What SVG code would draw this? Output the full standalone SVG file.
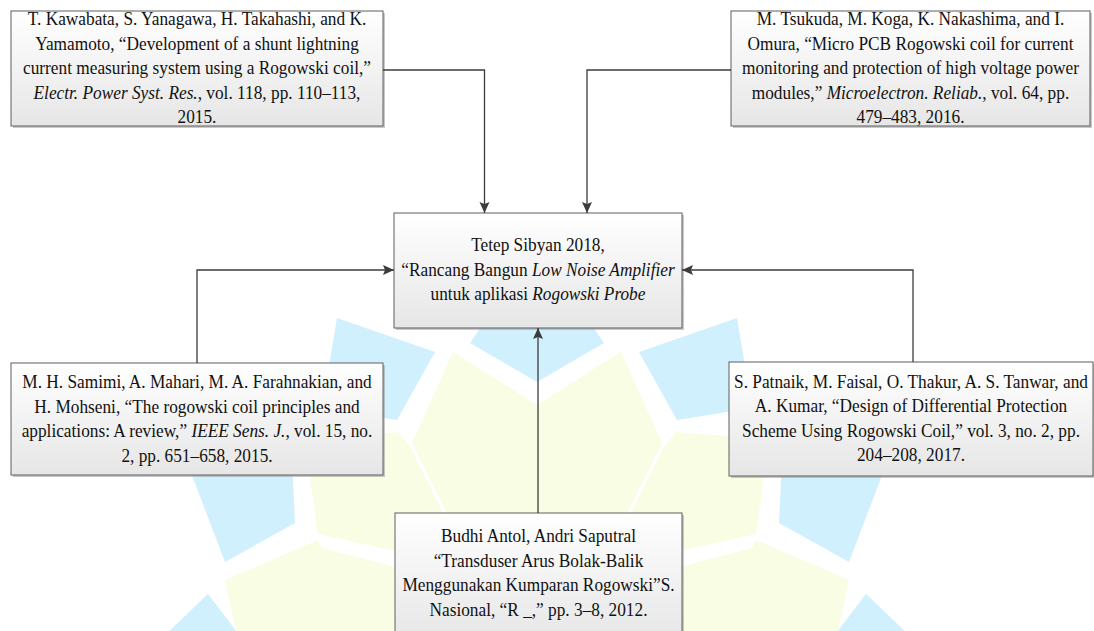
<svg xmlns="http://www.w3.org/2000/svg" width="1094" height="631" viewBox="0 0 1094 631">
<defs>
<linearGradient id="boxgrad" x1="0" y1="0" x2="0" y2="1">
<stop offset="0" stop-color="#ffffff"/>
<stop offset="1" stop-color="#e6e6e6"/>
</linearGradient>
<marker id="arrow" markerUnits="userSpaceOnUse" markerWidth="12" markerHeight="11" refX="11" refY="5" orient="auto">
<path d="M0,0 L11,5 L0,10 L2,5 z" fill="#3c3c3c"/>
</marker>
<g id="wmhalf">
<polygon class="wb" points="337,318 435,352 397,420 322,408"/>
<polygon class="wb" points="178,440 291,440 295,523 225,562 193,478"/>
<polygon class="wb" points="160,640 208,594 243,640"/>
<polygon class="wy" points="300,440 398,432 410,447 444,515 440,553 395,551 318,534 310,478"/>
<polygon class="wy" points="225,580 318,540 322,548 395,567 410,640 238,640"/>
</g>
</defs>
<style>
.wb{fill:#cff0fc;}
.wy{fill:#f9fde3;}
.box{fill:url(#boxgrad);stroke:#5e5e5e;stroke-width:1;}
.shadow{fill:#9c9c9c;opacity:0.55;}
.t{font-family:"Liberation Serif","Times New Roman",serif;font-size:19px;fill:#111111;text-anchor:middle;}
.i{font-style:italic;}
.conn{fill:none;stroke:#3c3c3c;stroke-width:1.3;}
</style>
<rect x="0" y="0" width="1094" height="631" fill="#ffffff"/>
<g id="watermark">
<use href="#wmhalf"/>
<use href="#wmhalf" transform="matrix(-1,0,0,1,1074,0)"/>
<polygon class="wb" points="487,318 470,343 537,382 604,343 587,318"/>
<polygon class="wy" points="453,352 537,405 621,352 662,443 627,513 600,600 474,600 447,513 412,443"/>
</g>
<g id="node-kawabata">
<rect class="shadow" x="13" y="13" width="372" height="115"/>
<rect class="box" x="11" y="11" width="372" height="115"/>
<g transform="matrix(0.91,0,0,1,17.73,0)">
<text class="t" x="197" y="25.5">T. Kawabata, S. Yanagawa, H. Takahashi, and K.</text>
<text class="t" x="197" y="50">Yamamoto, “Development of a shunt lightning</text>
<text class="t" x="197" y="74.5">current measuring system using a Rogowski coil,”</text>
<text class="t" x="197" y="99"><tspan class="i">Electr. Power Syst. Res.</tspan>, vol. 118, pp. 110–113,</text>
<text class="t" x="197" y="123">2015.</text>
</g>
</g>
<g id="node-tsukuda">
<rect class="shadow" x="733" y="13" width="359" height="115"/>
<rect class="box" x="731" y="11" width="359" height="115"/>
<g transform="matrix(0.91,0,0,1,81.945,0)">
<text class="t" x="910.5" y="25.5">M. Tsukuda, M. Koga, K. Nakashima, and I.</text>
<text class="t" x="910.5" y="50">Omura, “Micro PCB Rogowski coil for current</text>
<text class="t" x="910.5" y="74.5">monitoring and protection of high voltage power</text>
<text class="t" x="910.5" y="99">modules,” <tspan class="i">Microelectron. Reliab.</tspan>, vol. 64, pp.</text>
<text class="t" x="910.5" y="123">479–483, 2016.</text>
</g>
</g>
<g id="node-sibyan">
<rect class="shadow" x="396" y="215" width="288" height="115"/>
<rect class="box" x="394" y="213" width="288" height="115"/>
<g transform="matrix(0.91,0,0,1,48.42,0)">
<text class="t" x="538" y="251.5">Tetep Sibyan 2018,</text>
<text class="t" x="538" y="276">“Rancang Bangun <tspan class="i">Low Noise Amplifier</tspan></text>
<text class="t" x="538" y="300.5">untuk aplikasi <tspan class="i">Rogowski Probe</tspan></text>
</g>
</g>
<g id="node-samimi">
<rect class="shadow" x="13" y="365" width="372" height="112"/>
<rect class="box" x="11" y="363" width="372" height="112"/>
<g transform="matrix(0.91,0,0,1,17.73,0)">
<text class="t" x="197" y="388.5">M. H. Samimi, A. Mahari, M. A. Farahnakian, and</text>
<text class="t" x="197" y="413">H. Mohseni, “The rogowski coil principles and</text>
<text class="t" x="197" y="437.5">applications: A review,” <tspan class="i">IEEE Sens. J.</tspan>, vol. 15, no.</text>
<text class="t" x="197" y="462">2, pp. 651–658, 2015.</text>
</g>
</g>
<g id="node-patnaik">
<rect class="shadow" x="731" y="364" width="364" height="114"/>
<rect class="box" x="729" y="362" width="364" height="114"/>
<g transform="matrix(0.91,0,0,1,81.99,0)">
<text class="t" x="911" y="388">S. Patnaik, M. Faisal, O. Thakur, A. S. Tanwar, and</text>
<text class="t" x="911" y="412.5">A. Kumar, “Design of Differential Protection</text>
<text class="t" x="911" y="437">Scheme Using Rogowski Coil,” vol. 3, no. 2, pp.</text>
<text class="t" x="911" y="461.5">204–208, 2017.</text>
</g>
</g>
<g id="node-antol">
<rect class="shadow" x="397" y="515" width="287" height="130"/>
<rect class="box" x="395" y="513" width="287" height="130"/>
<g transform="matrix(0.91,0,0,1,48.465,0)">
<text class="t" x="538.5" y="542.5">Budhi Antol, Andri Saputral</text>
<text class="t" x="538.5" y="567">“Transduser Arus Bolak-Balik</text>
<text class="t" x="538.5" y="591.5">Menggunakan Kumparan Rogowski”S.</text>
<text class="t" x="538.5" y="616">Nasional, “R _,” pp. 3–8, 2012.</text>
</g>
</g>
<g id="connectors">
<path class="conn" d="M383,70 H484.5 V213" marker-end="url(#arrow)"/>
<path class="conn" d="M731,70 H587 V213" marker-end="url(#arrow)"/>
<path class="conn" d="M197,363 V270 H394" marker-end="url(#arrow)"/>
<path class="conn" d="M913,362 V270 H682" marker-end="url(#arrow)"/>
<path class="conn" d="M538,513 V328" marker-end="url(#arrow)"/>
</g>
</svg>
